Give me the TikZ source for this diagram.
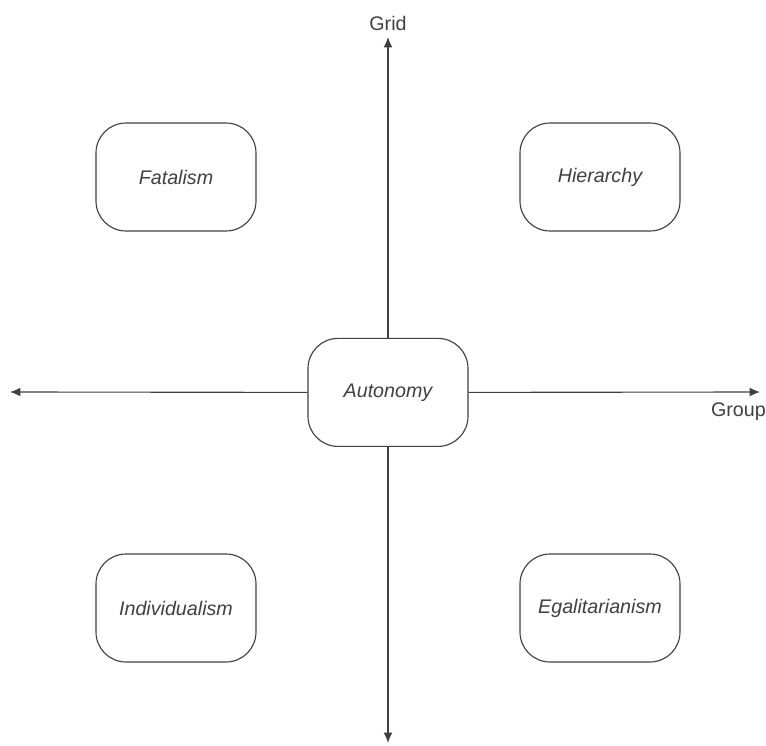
\documentclass[tikz,border=0pt]{standalone}
\usepackage{fontspec}
\setmainfont{Liberation Sans}
\usetikzlibrary{arrows.meta}
\definecolor{inkgray}{rgb}{0.25, 0.25, 0.25}
\tikzset{quad/.style={draw=inkgray,thick,fill=white,rounded corners=0.75cm,minimum width=4cm,minimum height=2.7cm,font=\fontsize{14}{17}\selectfont\itshape,text=inkgray}}
\begin{document}
\begin{tikzpicture}[axis/.style={draw=inkgray,thick,-{Latex[length=2.6mm,width=2.2mm]}}]
\useasboundingbox (-9.7,-8.825) rectangle (9.45,9.8);
\coordinate (gridtip) at (0,8.875);
\coordinate (downtip) at (0,-8.775);
\coordinate (lefttip) at (-9.45,0);
\coordinate (grouptip) at (9.3,0);
\node[quad] (auto) at (0,-0.01) {Autonomy};
\draw[axis] (auto.north) -- (gridtip);
\draw[axis] (auto.south) -- (downtip);
\draw[axis] (auto.west) -- (lefttip);
\draw[axis] (auto.east) -- (grouptip);
\node[text=inkgray,font=\fontsize{14}{17}\selectfont] (gridlabel) at (0,9.22) {Grid};
\node[below left,text=inkgray,font=\fontsize{14}{17}\selectfont,inner xsep=0pt] (grouplabel) at (9.45,-0.15) {Group};
\foreach \nm/\x/\y/\txt in {fat/-5.3/5.375/Fatalism,hier/5.3/5.375/Hierarchy,indiv/-5.3/-5.4/Individualism,egal/5.3/-5.4/Egalitarianism} {
  \node[quad] (\nm) at (\x,\y) {\txt};
}
\end{tikzpicture}
\end{document}
